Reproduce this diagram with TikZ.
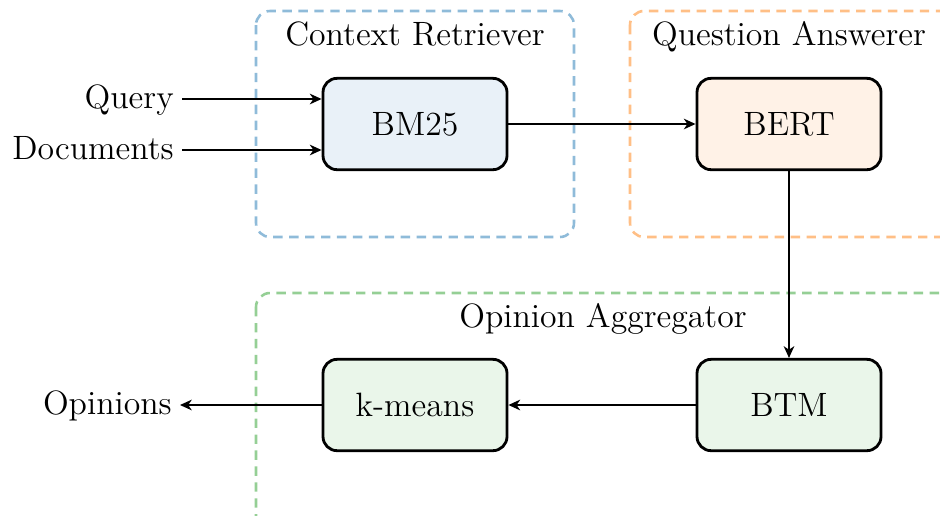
\documentclass[tikz,border=0pt]{standalone}
\usetikzlibrary{arrows.meta}
\definecolor{lineblue}{RGB}{143,187,217}
\definecolor{lineorange}{RGB}{255,191,134}
\definecolor{linegreen}{RGB}{149,207,149}
\definecolor{fillblue}{RGB}{233,241,248}
\definecolor{fillorange}{RGB}{255,242,231}
\definecolor{fillgreen}{RGB}{234,246,234}
\tikzset{
  block/.style={draw=black, line width=1.2pt, rounded corners=6pt,
    minimum width=2.76cm, minimum height=1.37cm, font=\Large},
  group/.style={line width=1.1pt, dash pattern=on 4pt off 2.8pt, rounded corners=6pt},
  grouptitle/.style={font=\Large, anchor=base},
  sidelabel/.style={font=\Large, anchor=east, text height=2.3ex, text depth=0.5ex},
  flow/.style={line width=0.8pt, -{Stealth[length=5pt,width=4.5pt,inset=1.5pt]}}
}
\begin{document}
\begin{tikzpicture}[x=0.015cm, y=-0.015cm]
\useasboundingbox (0,0) rectangle (940,515);
\clip (0,0) rectangle (940,515);

% stage frames
\draw[group, draw=lineblue]   (256,11) rectangle (574,237);
\draw[group, draw=lineorange] (630,11) rectangle (1000,237);
\draw[group, draw=linegreen]  (256,293) rectangle (1000,560);

\node[grouptitle] (t1) at (415,45)  {Context Retriever};
\node[grouptitle] (t2) at (789,45)  {Question Answerer};
\node[grouptitle] (t3) at (603,327) {Opinion Aggregator};

% processing blocks
\node[block, fill=fillblue]   (bm25) at (415,124) {BM25};
\node[block, fill=fillorange] (bert) at (789,124) {BERT};
\node[block, fill=fillgreen]  (km)   at (415,405) {k-means};
\node[block, fill=fillgreen]  (btm)  at (789,405) {BTM};

% inputs and output
\node[sidelabel] (query) at (182,99)  {Query};
\node[sidelabel] (docs)  at (182,150) {Documents};
\node[sidelabel] (opin)  at (180,405) {Opinions};

\draw[flow] (query.east) -- (query.east -| bm25.west);
\draw[flow] (docs.east) -- (docs.east -| bm25.west);
\draw[flow] (bm25) -- (bert);
\draw[flow] (bert) -- (btm);
\draw[flow] (btm) -- (km);
\draw[flow] (km) -- (opin.east);
\end{tikzpicture}
\end{document}
